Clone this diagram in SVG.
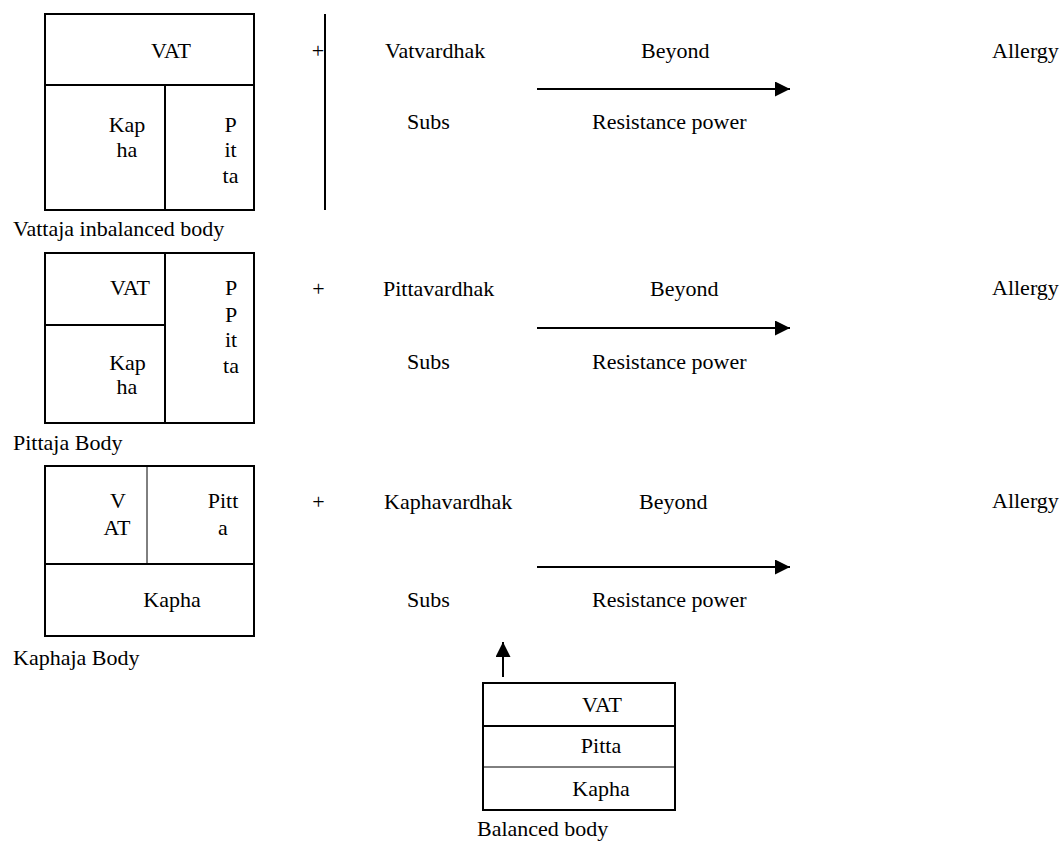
<svg xmlns="http://www.w3.org/2000/svg" width="1063" height="841" viewBox="0 0 1063 841">
<style>
text{font-family:'Liberation Serif','Times New Roman',serif;font-size:22px;fill:#000}
.m{text-anchor:middle}
.b{fill:#fff;stroke:#000;stroke-width:2}
.l{stroke:#000;stroke-width:2;fill:none}
.t{stroke:#000;stroke-width:1;fill:none}
</style>
<defs>
<marker id="ah" viewBox="0 0 10 10" refX="10" refY="5" markerWidth="7.5" markerHeight="7.5" orient="auto" markerUnits="strokeWidth">
<path d="M0,0L10,5L0,10z" fill="#000"/>
</marker>
</defs>
<rect width="1063" height="841" fill="#fff"/>

<g id="vattaja-body">
<rect class="b" x="45" y="14" width="209" height="196"/>
<line class="l" x1="45" y1="85" x2="254" y2="85"/>
<line class="l" x1="165" y1="85" x2="165" y2="210"/>
<text class="m" x="171" y="58">VAT</text>
<text class="m" x="127" y="132">Kap</text>
<text class="m" x="127" y="157">ha</text>
<text class="m" x="230.5" y="132">P</text>
<text class="m" x="230.5" y="157">it</text>
<text class="m" x="230.5" y="183">ta</text>
<text x="13" y="236">Vattaja inbalanced body</text>
</g>

<g id="pittaja-body">
<rect class="b" x="45" y="253" width="209" height="170"/>
<line class="l" x1="165" y1="253" x2="165" y2="423"/>
<line class="l" x1="45" y1="325" x2="165" y2="325"/>
<text class="m" x="130" y="295">VAT</text>
<text class="m" x="127.5" y="370">Kap</text>
<text class="m" x="127" y="394">ha</text>
<text class="m" x="231" y="295">P</text>
<text class="m" x="231" y="322">P</text>
<text class="m" x="231" y="347">it</text>
<text class="m" x="231" y="373">ta</text>
<text x="13" y="450">Pittaja Body</text>
</g>

<g id="kaphaja-body">
<rect class="b" x="45" y="466" width="209" height="170"/>
<line class="t" x1="147" y1="466" x2="147" y2="564"/>
<line class="l" x1="45" y1="564" x2="254" y2="564"/>
<text class="m" x="118" y="508">V</text>
<text class="m" x="117" y="535">AT</text>
<text class="m" x="223" y="508">Pitt</text>
<text class="m" x="223" y="535">a</text>
<text class="m" x="172" y="607">Kapha</text>
<text x="13" y="665">Kaphaja Body</text>
</g>

<g id="balanced-body">
<rect class="b" x="483" y="683" width="192" height="127"/>
<line class="l" x1="483" y1="726" x2="675" y2="726"/>
<line class="t" x1="483" y1="767" x2="675" y2="767"/>
<text class="m" x="602" y="712">VAT</text>
<text class="m" x="601" y="753">Pitta</text>
<text class="m" x="601" y="796">Kapha</text>
<text x="477" y="836">Balanced body</text>
</g>

<g id="row1-labels">
<text class="m" x="318" y="58">+</text>
<text x="385" y="58">Vatvardhak</text>
<text x="641" y="58">Beyond</text>
<text x="992" y="58">Allergy</text>
<text x="407" y="129">Subs</text>
<text x="592" y="129">Resistance power</text>
</g>
<g id="row2-labels">
<text class="m" x="318.5" y="296">+</text>
<text x="383" y="296">Pittavardhak</text>
<text x="650" y="296">Beyond</text>
<text x="992" y="295">Allergy</text>
<text x="407" y="369">Subs</text>
<text x="592" y="369">Resistance power</text>
</g>
<g id="row3-labels">
<text class="m" x="318.5" y="509">+</text>
<text x="384" y="509">Kaphavardhak</text>
<text x="639" y="509">Beyond</text>
<text x="992" y="508">Allergy</text>
<text x="407" y="607">Subs</text>
<text x="592" y="607">Resistance power</text>
</g>

<g id="connectors">
<line class="l" x1="325" y1="14" x2="325" y2="210"/>
<line class="l" x1="537" y1="89" x2="790" y2="89" marker-end="url(#ah)"/>
<line class="l" x1="537" y1="328" x2="790" y2="328" marker-end="url(#ah)"/>
<line class="l" x1="537" y1="567" x2="790" y2="567" marker-end="url(#ah)"/>
<line class="l" x1="503" y1="677" x2="503" y2="642" marker-end="url(#ah)"/>
</g>
</svg>
